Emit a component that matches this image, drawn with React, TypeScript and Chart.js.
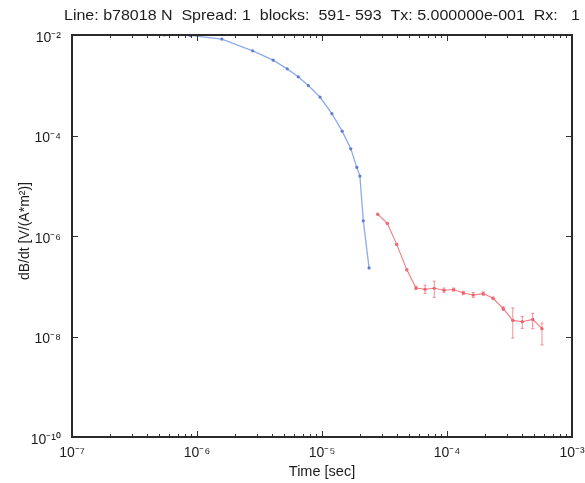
import React, { useEffect, useRef } from "react";
import { Chart, registerables } from "chart.js";

Chart.register(...registerables);

const titleText = "Line: b78018 N  Spread: 1  blocks:  591- 593  Tx: 5.000000e-001  Rx:   1";
const xTitle = "Time [sec]";
const yTitle = "dB/dt [V/(A*m\u00B2)]";

const yTickValues = [1e-10, 1e-8, 1e-6, 1e-4, 1e-2];
const xTickValues = [1e-7, 1e-6, 1e-5, 1e-4, 1e-3];

const blueTime = [5.5e-7, 8.8e-7, 1.58e-6, 2.79e-6, 4.07e-6, 5.27e-6, 6.46e-6, 7.77e-6, 9.64e-6, 1.2e-5, 1.45e-5, 1.7e-5, 1.9e-5, 2.01e-5, 2.14e-5, 2.38e-5];
const blueValue = [1.0e-2, 9.8e-3, 8.3e-3, 4.85e-3, 3.16e-3, 2.12e-3, 1.47e-3, 9.86e-4, 5.83e-4, 2.72e-4, 1.22e-4, 5.42e-5, 2.32e-5, 1.56e-5, 2.0e-6, 2.32e-7];

const redTime = [2.79e-5, 3.33e-5, 3.96e-5, 4.77e-5, 5.65e-5, 6.67e-5, 7.91e-5, 9.46e-5, 1.13e-4, 1.35e-4, 1.62e-4, 1.95e-4, 2.34e-4, 2.82e-4, 3.36e-4, 4.0e-4, 4.85e-4, 5.75e-4];
const redValue = [2.72e-6, 1.79e-6, 6.82e-7, 2.12e-7, 9.25e-8, 8.71e-8, 9.12e-8, 8.32e-8, 8.59e-8, 7.35e-8, 6.7e-8, 7.14e-8, 5.75e-8, 3.58e-8, 2.09e-8, 1.97e-8, 2.19e-8, 1.43e-8];
const redLow = [2.65e-6, 1.75e-6, 6.6e-7, 2.05e-7, 8.6e-8, 7.2e-8, 6.0e-8, 7.6e-8, 8.0e-8, 6.8e-8, 6.0e-8, 6.6e-8, 5.4e-8, 3.3e-8, 9.3e-9, 1.45e-8, 1.43e-8, 6.8e-9];
const redHigh = [2.8e-6, 1.83e-6, 7.0e-7, 2.2e-7, 1.0e-7, 1.05e-7, 1.26e-7, 9.2e-8, 9.2e-8, 7.9e-8, 7.5e-8, 7.7e-8, 6.1e-8, 3.9e-8, 3.7e-8, 2.5e-8, 2.9e-8, 1.85e-8];

const SUP: Record<string, string> = { "-": "\u207B", "0": "\u2070", "1": "\u00B9", "2": "\u00B2", "3": "\u00B3", "4": "\u2074", "5": "\u2075", "6": "\u2076", "7": "\u2077", "8": "\u2078", "9": "\u2079" };
const pow10Label = (v: number) => {
  const e = Math.round(Math.log10(v)).toString();
  return "10" + e.split("").map((c) => SUP[c] || c).join("");
};

const FONT = "'Liberation Sans', Arial, sans-serif";
const TEXT = "#1c1c1c";

const decorPlugin = {
  id: "decor",
  afterDatasetsDraw(chart: any) {
    const { ctx, chartArea: a, scales } = chart;
    const xs = scales.x;
    const ys = scales.y;
    ctx.save();
    // error bars for red series
    ctx.strokeStyle = "rgba(242,120,130,0.85)";
    ctx.lineWidth = 1;
    redTime.forEach((t, i) => {
      const px = xs.getPixelForValue(t);
      const y1 = ys.getPixelForValue(redLow[i]);
      const y2 = ys.getPixelForValue(redHigh[i]);
      ctx.beginPath();
      ctx.moveTo(px, y1);
      ctx.lineTo(px, y2);
      ctx.moveTo(px - 1.5, y1);
      ctx.lineTo(px + 1.5, y1);
      ctx.moveTo(px - 1.5, y2);
      ctx.lineTo(px + 1.5, y2);
      ctx.stroke();
    });
    // ticks
    ctx.strokeStyle = "#333";
    ctx.lineWidth = 1;
    ctx.beginPath();
    for (let d = -7; d < -3; d++) {
      for (let m = 1; m < 10; m++) {
        const v = m * Math.pow(10, d);
        const px = Math.round(xs.getPixelForValue(v)) + 0.5;
        const len = m === 1 ? 6 : 3;
        ctx.moveTo(px, a.bottom);
        ctx.lineTo(px, a.bottom - len);
        ctx.moveTo(px, a.top);
        ctx.lineTo(px, a.top + len);
      }
    }
    yTickValues.forEach((v) => {
      const py = Math.round(ys.getPixelForValue(v)) + 0.5;
      ctx.moveTo(a.left, py);
      ctx.lineTo(a.left + 6, py);
      ctx.moveTo(a.right, py);
      ctx.lineTo(a.right - 6, py);
    });
    ctx.stroke();
    // frame
    ctx.strokeStyle = "#2a2a2a";
    ctx.lineWidth = 2;
    ctx.strokeRect(a.left, a.top, a.right - a.left, a.bottom - a.top);
    // title, centred over the plot and spanning its measured width in the reference
    ctx.fillStyle = TEXT;
    ctx.font = "15px " + FONT;
    ctx.textBaseline = "middle";
    ctx.textAlign = "center";
    const cx = (a.left + a.right) / 2;
    const w = ctx.measureText(titleText).width;
    const sx = 516 / w;
    ctx.save();
    ctx.translate(cx, 16);
    ctx.scale(sx, 1);
    ctx.fillText(titleText, 0, 0);
    ctx.restore();
    // y title
    ctx.font = "14px " + FONT;
    ctx.translate(25, 231);
    ctx.rotate(-Math.PI / 2);
    ctx.textAlign = "center";
    ctx.fillText(yTitle, 0, 0);
    ctx.restore();
  },
};

export default function App() {
  const ref = useRef<HTMLCanvasElement | null>(null);
  useEffect(() => {
    if (!ref.current) return;
    const chart = new Chart(ref.current, {
      type: "scatter",
      data: {
        datasets: [
          {
            label: "early",
            data: blueTime.map((t, i) => ({ x: t, y: blueValue[i] })),
            showLine: true,
            borderColor: "rgb(140,172,238)",
            borderWidth: 1.3,
            pointRadius: 1.6,
            pointBackgroundColor: "rgb(95,125,205)",
            pointBorderWidth: 0,
          },
          {
            label: "late",
            data: redTime.map((t, i) => ({ x: t, y: redValue[i] })),
            showLine: true,
            borderColor: "rgb(246,120,125)",
            borderWidth: 1.1,
            pointRadius: 1.6,
            pointBackgroundColor: "rgb(235,80,90)",
            pointBorderWidth: 0,
          },
        ],
      },
      options: {
        animation: false,
        responsive: true,
        maintainAspectRatio: false,
        layout: { padding: { top: 35, right: 13, left: 0, bottom: 0 } },
        plugins: { legend: { display: false }, tooltip: { enabled: false }, title: { display: false } },
        scales: {
          x: {
            type: "logarithmic",
            min: 1e-7,
            max: 1e-3,
            grid: { display: false, drawTicks: false },
            border: { display: false },
            afterBuildTicks: (s: any) => {
              s.ticks = xTickValues.map((v) => ({ value: v }));
            },
            afterFit: (s: any) => {
              s.height = 46;
              s.paddingLeft = 0;
              s.paddingRight = 0;
            },
            ticks: {
              padding: 8,
              maxRotation: 0,
              autoSkip: false,
              color: TEXT,
              font: { family: FONT, size: 14 },
              callback: (v: any) => pow10Label(Number(v)),
            },
            title: {
              display: true,
              text: xTitle,
              color: TEXT,
              font: { family: FONT, size: 14.5 },
              padding: { top: 0, bottom: 2 },
            },
          },
          y: {
            type: "logarithmic",
            min: 1e-10,
            max: 1e-2,
            grid: { display: false, drawTicks: false },
            border: { display: false },
            afterBuildTicks: (s: any) => {
              s.ticks = yTickValues.map((v) => ({ value: v }));
            },
            afterFit: (s: any) => {
              s.width = 72;
              s.paddingTop = 0;
              s.paddingBottom = 0;
            },
            ticks: {
              padding: 11,
              labelOffset: 3,
              autoSkip: false,
              color: TEXT,
              font: { family: FONT, size: 14 },
              callback: (v: any) => pow10Label(Number(v)),
            },
          },
        },
      },
      plugins: [decorPlugin],
    } as any);
    return () => chart.destroy();
  }, []);
  return (
    <div style={{ position: "fixed", left: 0, top: 0, width: 585, height: 483, background: "#fff" }}>
      <canvas ref={ref} />
    </div>
  );
}
